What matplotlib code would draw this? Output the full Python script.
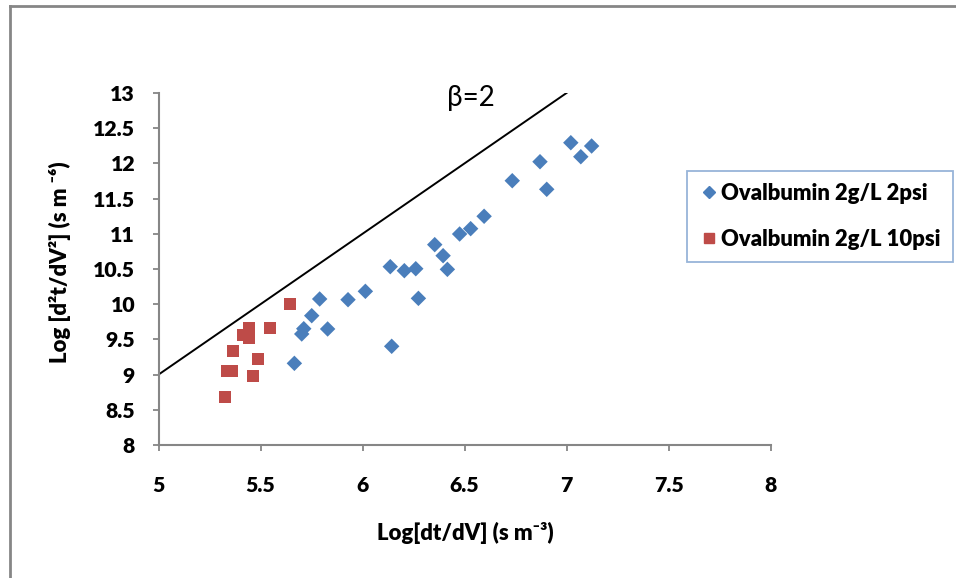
import numpy as np
import matplotlib
matplotlib.use("Agg")
import matplotlib.pyplot as plt
from matplotlib.lines import Line2D

# data
x_2psi = [6.734, 6.596, 6.530, 6.476, 6.354, 6.395, 6.416, 6.136, 6.205, 6.261,
          6.274, 6.014, 5.929, 5.790, 5.751, 5.712, 5.702, 5.829, 6.143, 5.666,
          7.021, 7.123, 7.070, 6.870, 6.903]
y_2psi = [11.754, 11.249, 11.073, 10.997, 10.846, 10.689, 10.495, 10.533, 10.476, 10.504,
          10.083, 10.183, 10.064, 10.074, 9.837, 9.652, 9.577, 9.648, 9.402, 9.160,
          12.294, 12.247, 12.095, 12.024, 11.632]
x_10psi = [5.645, 5.548, 5.445, 5.413, 5.442, 5.365, 5.486, 5.360, 5.334, 5.462, 5.327]
y_10psi = [10.003, 9.662, 9.666, 9.558, 9.516, 9.335, 9.222, 9.051, 9.051, 8.985, 8.682]
beta_x = [5, 7]
beta_y = [9, 13]

xticks = [5, 5.5, 6, 6.5, 7, 7.5, 8]
yticks = [8, 8.5, 9, 9.5, 10, 10.5, 11, 11.5, 12, 12.5, 13]

blue = "#4A7EBB"
red = "#BE4B48"
grey = "#868686"
plt.rcParams["font.family"] = ["Lato", "DejaVu Sans"]
wt = "heavy"

fig = plt.figure(figsize=(9.56, 5.78), dpi=100)
ax = fig.add_axes([0.1658, 0.2301, 0.806 - 0.1658, 0.8391 - 0.2301])

ax.plot(beta_x, beta_y, color="black", lw=1.4, zorder=2)
ax.scatter(x_2psi, y_2psi, marker="D", s=62, color=blue, edgecolors="none", zorder=3)
ax.scatter(x_10psi, y_10psi, marker="s", s=75, color=red, edgecolors="none", zorder=3)

ax.set_xlim(5, 8)
ax.set_ylim(8, 13)
ax.set_xticks(xticks)
ax.set_yticks(yticks)
ax.set_xticklabels([f"{v:g}" for v in xticks], fontweight=wt, fontsize=15.3)
ax.set_yticklabels([f"{v:g}" for v in yticks], fontweight=wt, fontsize=15.3)
ax.tick_params(axis="x", direction="out", length=4.3, width=1.3, color=grey, pad=18)
ax.tick_params(axis="y", direction="out", length=4.3, width=1.3, color=grey, pad=12.6)
for s in ["top", "right"]:
    ax.spines[s].set_visible(False)
for s in ["left", "bottom"]:
    ax.spines[s].set_color(grey)
    ax.spines[s].set_linewidth(1.5)

ax.text(6.414, 12.93, "β=2", fontsize=20, ha="left", va="center")

fig.text(465 / 956, 1 - 533 / 578, "Log[dt/dV] (s m⁻³)", fontsize=15.9,
         fontweight=wt, ha="center", va="center")
fig.text(60 / 956, 1 - 262 / 578, "Log [d²t/dV²] (s m ⁻⁶)", fontsize=15.9,
         fontweight=wt, ha="center", va="center", rotation=90)

handles = [Line2D([], [], marker="D", ls="none", color=blue, markersize=6.6),
           Line2D([], [], marker="s", ls="none", color=red, markersize=7.2)]
leg = fig.legend(handles, ["Ovalbumin 2g/L 2psi", "Ovalbumin 2g/L 10psi"],
                 loc="upper left", bbox_to_anchor=(687 / 956, 1 - 170.7 / 578),
                 frameon=True, fancybox=False, handlelength=0.9, handletextpad=0.1,
                 labelspacing=1.15, borderpad=0.55, borderaxespad=0,
                 prop={"weight": wt, "size": 15.8})
leg.get_frame().set_edgecolor("#7EA2CF")
leg.get_frame().set_linewidth(1.3)

# outer chart border (partially visible in the reference)
fig.add_artist(Line2D([10 / 956, 1], [1 - 5.5 / 578] * 2, color=grey, lw=2))
fig.add_artist(Line2D([10 / 956] * 2, [0, 1 - 5.5 / 578], color=grey, lw=2))

fig.savefig("out.png", dpi=100)
